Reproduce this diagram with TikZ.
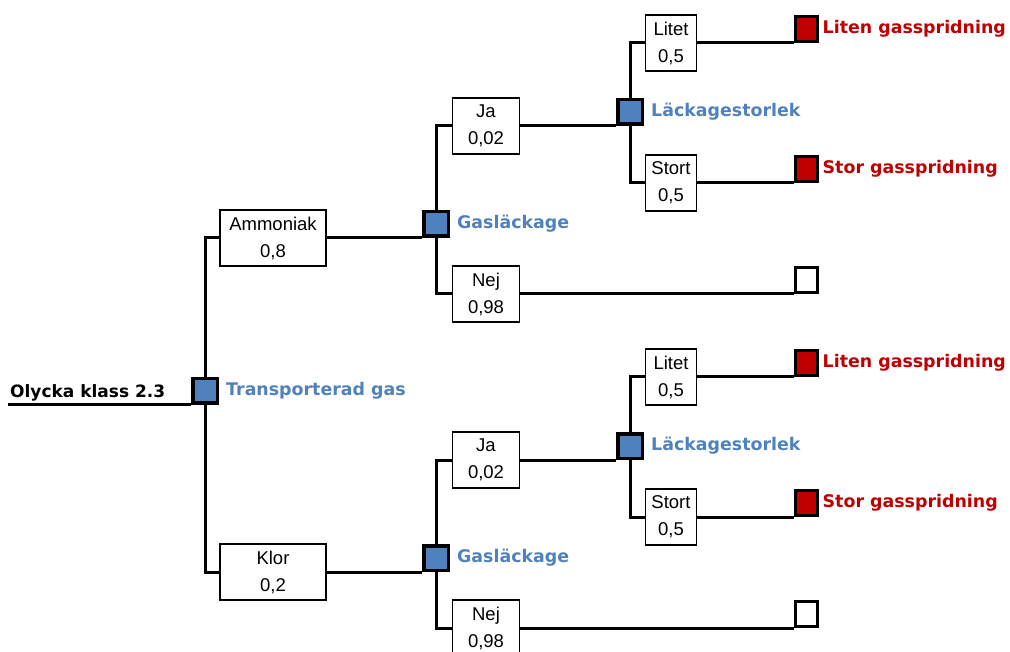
\documentclass[tikz,border=0pt]{standalone}
\usepackage{fontspec}
\setmainfont{Liberation Sans}
\newfontfamily\tagfont{DejaVu Sans}
\usepackage{tikz}

\definecolor{chanceblue}{HTML}{4F81BD}
\definecolor{endred}{HTML}{C00000}

\begin{document}
\begin{tikzpicture}[
    x=1pt, y=-1pt,
    edge/.style={line width=3pt},
    gasbox/.style={rectangle, draw, line width=1.2pt, fill=white, align=center, inner sep=0pt, minimum width=106pt, minimum height=56pt, font=\fontsize{18.5}{27}\selectfont},
    answerbox/.style={gasbox, minimum width=67pt},
    sizebox/.style={gasbox, minimum width=51pt},
    chance/.style={rectangle, draw, line width=3.5pt, fill=chanceblue, minimum size=24.5pt, inner sep=0pt, anchor=south},
    outcome/.style={rectangle, draw, line width=3pt, fill=endred, minimum width=22pt, minimum height=25pt, inner sep=0pt, anchor=south},
    nooutcome/.style={outcome, fill=white},
    tag/.style={anchor=west, inner sep=0pt, font=\tagfont\bfseries\fontsize{17.4}{20}\selectfont},
    chancetag/.style={tag, xshift=7pt, text=chanceblue},
    outcometag/.style={tag, xshift=4pt, text=endred}
]
    \useasboundingbox (0,0) rectangle (1010,652);
    \clip (0,0) rectangle (1010,652);

    % Root
    \coordinate (start) at (8,405);
    \node[anchor=base west, inner sep=0pt, font=\tagfont\bfseries\fontsize{17}{20}\selectfont] (rootlabel) at (10,398) {Olycka klass 2.3};
    \node[chance] (trans) at (205,405) {};
    \node[chancetag] (transtag) at (trans.east) {Transporterad gas};

    % Gas type
    \node[gasbox] (ammoniak) at (273,238) {Ammoniak\\0,8};
    \node[gasbox] (klor) at (273,572) {Klor\\0,2};

    % Leakage
    \node[chance] (gas1) at (436,238) {};
    \node[chancetag] (gas1tag) at (gas1.east) {Gasläckage};
    \node[chance] (gas2) at (436,572) {};
    \node[chancetag] (gas2tag) at (gas2.east) {Gasläckage};

    \node[answerbox] (ja1) at (486,126) {Ja\\0,02};
    \node[answerbox] (nej1) at (486,294) {Nej\\0,98};
    \node[answerbox] (ja2) at (486,460) {Ja\\0,02};
    \node[answerbox] (nej2) at (486,628) {Nej\\0,98};

    % Leak size
    \node[chance] (lack1) at (630,126) {};
    \node[chancetag] (lack1tag) at (lack1.east) {Läckagestorlek};
    \node[chance] (lack2) at (630,460) {};
    \node[chancetag] (lack2tag) at (lack2.east) {Läckagestorlek};

    \node[sizebox] (litet1) at (671,43) {Litet\\0,5};
    \node[sizebox] (stort1) at (671,183) {Stort\\0,5};
    \node[sizebox] (litet2) at (671,377) {Litet\\0,5};
    \node[sizebox] (stort2) at (671,517) {Stort\\0,5};

    % Outcomes
    \node[outcome] (end1) at (806,43) {};
    \node[outcometag] (end1tag) at (end1.east) {Liten gasspridning};
    \node[outcome] (end2) at (806,183) {};
    \node[outcometag] (end2tag) at (end2.east) {Stor gasspridning};
    \node[nooutcome] (end3) at (806,294) {};
    \node[outcome] (end4) at (806,377) {};
    \node[outcometag] (end4tag) at (end4.east) {Liten gasspridning};
    \node[outcome] (end5) at (806,517) {};
    \node[outcometag] (end5tag) at (end5.east) {Stor gasspridning};
    \node[nooutcome] (end6) at (806,628) {};

    % Branches
    \draw[edge] (start) -- (trans.south west);
    \draw[edge] (ammoniak.west) -| (trans);
    \draw[edge] (klor.west) -| (trans);
    \draw[edge] (ammoniak.east) -- (gas1.south west);
    \draw[edge] (klor.east) -- (gas2.south west);
    \draw[edge] (ja1.west) -| (gas1);
    \draw[edge] (nej1.west) -| (gas1);
    \draw[edge] (ja2.west) -| (gas2);
    \draw[edge] (nej2.west) -| (gas2);
    \draw[edge] (ja1.east) -- (lack1.south west);
    \draw[edge] (ja2.east) -- (lack2.south west);
    \draw[edge] (litet1.west) -| (lack1);
    \draw[edge] (stort1.west) -| (lack1);
    \draw[edge] (litet2.west) -| (lack2);
    \draw[edge] (stort2.west) -| (lack2);
    \draw[edge] (litet1.east) -- (end1.south west);
    \draw[edge] (stort1.east) -- (end2.south west);
    \draw[edge] (nej1.east) -- (end3.south west);
    \draw[edge] (litet2.east) -- (end4.south west);
    \draw[edge] (stort2.east) -- (end5.south west);
    \draw[edge] (nej2.east) -- (end6.south west);
\end{tikzpicture}
\end{document}
